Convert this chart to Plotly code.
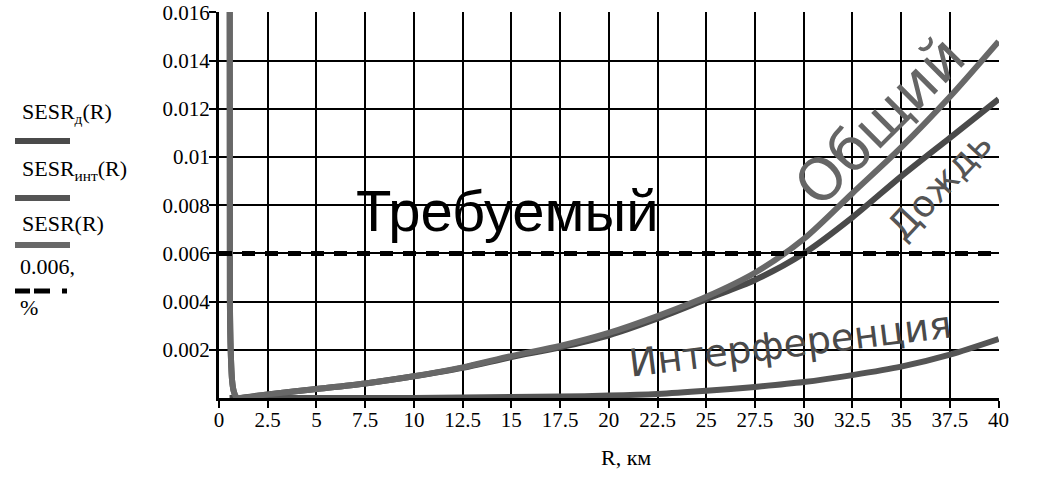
import plotly.graph_objects as go

# ---- data ----
R_km = [0.54, 0.56, 0.6, 0.67, 0.75, 0.87, 1.0, 2.5, 5, 7.5, 10, 12.5, 15, 17.5,
        20, 22.5, 25, 27.5, 30, 32.5, 35, 37.5, 40]
sesr_rain = [0, 0, 0, 0, 0, 0, 0, 0.00015, 0.00037, 0.0006, 0.0009, 0.00125, 0.0017,
             0.0021, 0.0026, 0.0033, 0.0041, 0.0049, 0.0060, 0.0075, 0.0092, 0.0108, 0.0124]
sesr_int = [0.03, 0.004, 0.002, 0.00075, 0.0003, 0.00005, 0, 0, 0, 0, 0, 0.00002,
            0.00004, 0.00006, 0.0001, 0.00017, 0.0003, 0.00046, 0.00066, 0.00095,
            0.0013, 0.0018, 0.00245]
sesr_total = [0.03, 0.004, 0.002, 0.00075, 0.0003, 0.00005, 0, 0.00015, 0.00037,
              0.0006, 0.0009, 0.00127, 0.00174, 0.00216, 0.0027, 0.0034, 0.0042,
              0.0052, 0.0066, 0.0085, 0.0104, 0.0125, 0.0148]
required_x = [0, 40]
required_y = [0.006, 0.006]

x_ticks = [0, 2.5, 5, 7.5, 10, 12.5, 15, 17.5, 20, 22.5, 25, 27.5, 30, 32.5, 35, 37.5, 40]
x_ticktext = ["0", "2.5", "5", "7.5", "10", "12.5", "15", "17.5", "20", "22.5", "25",
              "27.5", "30", "32.5", "35", "37.5", "40"]
y_ticks = [0.002, 0.004, 0.006, 0.008, 0.01, 0.012, 0.014, 0.016]
y_ticktext = ["0.002", "0.004", "0.006", "0.008", "0.01", "0.012", "0.014", "0.016"]

legend_labels = ["SESR<sub>д</sub>(R)", "SESR<sub>инт</sub>(R)", "SESR(R)"]
curve_labels = ["Требуемый", "Общий", "Дождь", "Интерференция"]

# ---- layout geometry (page pixels; body margin removed by post_script) ----
W, H = 1045, 479
L, Rm, T, B = 219, 46, 12, 81
PW, PH = W - L - Rm, H - T - B


def px(xp):
    return (xp - L) / PW


def py(yp):
    return (H - B - yp) / PH


c_rain, c_int, c_total = "#4a4a4a", "#555555", "#686868"
serif = "Times New Roman, Liberation Serif, serif"

fig = go.Figure()
fig.add_trace(go.Scatter(x=R_km, y=sesr_rain, mode="lines", line=dict(color=c_rain, width=6, shape="spline", smoothing=0.8), showlegend=False))
fig.add_trace(go.Scatter(x=R_km, y=sesr_int, mode="lines", line=dict(color=c_int, width=6, shape="spline", smoothing=0.8), showlegend=False))
fig.add_trace(go.Scatter(x=R_km, y=sesr_total, mode="lines", line=dict(color=c_total, width=6, shape="spline", smoothing=0.8), showlegend=False))
fig.add_trace(go.Scatter(x=required_x, y=required_y, mode="lines", line=dict(color="black", width=5, dash="13px,10px"), showlegend=False))

ann = []
# curve labels
ann.append(dict(x=14.8, y=0.0078, text=curve_labels[0], showarrow=False, xref="x", yref="y",
                font=dict(family="Liberation Sans", size=58, color="black")))
ann.append(dict(x=33.9, y=0.0115, text=curve_labels[1], showarrow=False, xref="x", yref="y", textangle=-45,
                font=dict(family="DejaVu Sans", size=58, color="#666666")))
ann.append(dict(x=37.0, y=0.0088, text=curve_labels[2], showarrow=False, xref="x", yref="y", textangle=-47,
                font=dict(family="DejaVu Sans", size=37, color="#555555")))
ann.append(dict(x=29.3, y=0.00224, text=curve_labels[3], showarrow=False, xref="x", yref="y", textangle=-7,
                font=dict(family="DejaVu Sans", size=38, color="#4a4a4a")))

# legend texts
leg_y = [113, 170, 224]
for lab, yy in zip(legend_labels, leg_y):
    ann.append(dict(x=px(20), y=py(yy), xref="paper", yref="paper", text=lab, showarrow=False,
                    xanchor="left", yanchor="middle", font=dict(family=serif, size=22, color="black")))
ann.append(dict(x=px(18), y=py(266), xref="paper", yref="paper", text="0.006,", showarrow=False,
                xanchor="left", yanchor="middle", font=dict(family=serif, size=22, color="black")))
ann.append(dict(x=px(18), y=py(307), xref="paper", yref="paper", text="%", showarrow=False,
                xanchor="left", yanchor="middle", font=dict(family=serif, size=22, color="black")))
# axis title
ann.append(dict(x=px(626), y=py(457), xref="paper", yref="paper", text="R, км", showarrow=False,
                xanchor="center", yanchor="middle", font=dict(family=serif, size=22, color="black")))

shapes = []
for yy, col in zip([141, 198, 245], [c_rain, c_int, c_total]):
    shapes.append(dict(type="line", xref="paper", yref="paper", x0=px(15), x1=px(70), y0=py(yy), y1=py(yy),
                       line=dict(color=col, width=6)))
for x0, x1 in [(15, 30), (34, 50), (62, 67)]:
    shapes.append(dict(type="line", xref="paper", yref="paper", x0=px(x0), x1=px(x1), y0=py(291), y1=py(291),
                       line=dict(color="black", width=5)))

axis_common = dict(showgrid=True, gridcolor="black", gridwidth=1.5, showline=True, linecolor="black",
                   linewidth=3, ticks="outside", ticklen=7, tickwidth=2, tickcolor="black",
                   zeroline=False, automargin=False, ticklabeloverflow="allow",
                   tickfont=dict(family=serif, size=21, color="black"))

fig.update_layout(
    width=W, height=H, margin=dict(l=L, r=Rm, t=T, b=B, autoexpand=False),
    paper_bgcolor="white", plot_bgcolor="white",
    annotations=ann, shapes=shapes,
    xaxis=dict(range=[0, 40.02], tickvals=x_ticks, ticktext=x_ticktext, ticklabelstandoff=-6, **axis_common),
    yaxis=dict(range=[0, 0.01602], tickvals=y_ticks, ticktext=y_ticktext, ticklabelstandoff=-5, **axis_common),
)

fig.write_html("out.html", config={"displayModeBar": False},
               post_script="document.body.style.margin='0px';")
